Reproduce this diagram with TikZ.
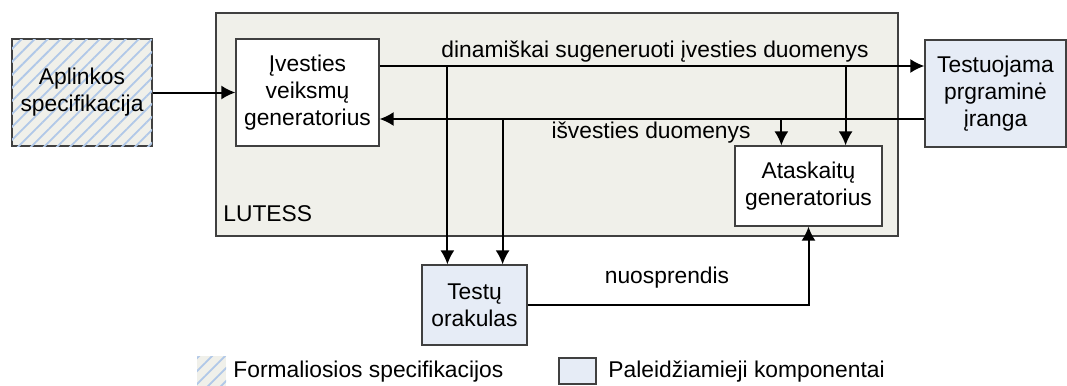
\documentclass[tikz,border=0pt]{standalone}
\usepackage{fontspec}
\setmainfont{Liberation Sans}
\usetikzlibrary{arrows.meta,patterns.meta}
\definecolor{frame}{RGB}{64,64,64}
\definecolor{lutessbg}{RGB}{240,240,234}
\definecolor{runblue}{RGB}{230,236,246}
\definecolor{hatchblue}{RGB}{176,200,232}
\tikzset{
  box/.style={draw=frame, line width=0.6pt, align=center, inner sep=0pt},
  specbox/.style={box, fill=lutessbg, postaction={pattern color=hatchblue, pattern={Lines[angle=45,distance=4.6pt,line width=0.9pt]}}},
  runbox/.style={box, fill=runblue},
  lbl/.style={inner sep=0pt},
  flow/.style={->, >={Latex[length=7pt,width=7pt]}, line width=1pt},
}
\begin{document}
\begin{tikzpicture}[x=0.5pt, y=-0.5pt, font=\fontsize{11.4pt}{13.4pt}\selectfont]
\useasboundingbox (0,0) rectangle (1067,386);
\node[box, fill=lutessbg, minimum width=341pt, minimum height=111.5pt] (lutess) at (557,124.5) {};
\node[lbl, anchor=west] (lutesslbl) at (223,214) {LUTESS};
\node[specbox, minimum width=70pt, minimum height=53.5pt] (spec) at (82,92.5) {Aplinkos\\specifikacija};
\node[box, fill=white, minimum width=71.5pt, minimum height=53.5pt] (ivest) at (307.5,92.5) {Įvesties\\veiksmų\\generatorius};
\node[runbox, minimum width=70.5pt, minimum height=53.5pt] (sut) at (995.5,93.5) {Testuojama\\prgraminė\\įranga};
\node[box, fill=white, minimum width=73.5pt, minimum height=40pt] (atask) at (808.5,186) {Ataskaitų\\generatorius};
\node[runbox, minimum width=52.5pt, minimum height=40pt] (orakulas) at (474.5,305) {Testų\\orakulas};

\coordinate (din) at ([yshift=13.25pt]ivest.east);
\coordinate (isv) at ([yshift=-13.25pt]ivest.east);
\coordinate (o1) at ([xshift=13pt]orakulas.north west);
\coordinate (o2) at ([xshift=-12.5pt]orakulas.north east);
\coordinate (a1) at ([xshift=23.5pt]atask.north west);
\coordinate (a2) at ([xshift=-18.5pt]atask.north east);

\draw[flow] (spec) -- (ivest);
\draw[flow] (din) -- (din -| sut.west);
\draw[flow] (isv -| sut.west) -- (isv);
\draw[flow] (din -| o1) -- (o1);
\draw[flow] (isv -| o2) -- (o2);
\draw[flow] (isv -| a1) -- (a1);
\draw[flow] (din -| a2) -- (a2);
\draw[flow] (orakulas) -| (atask);

\node[lbl] (dinlbl) at (655,52) {dinamiškai sugeneruoti įvesties duomenys};
\node[lbl] (isvlbl) at (651,133) {išvesties duomenys};
\node[lbl] (nuolbl) at (667,278) {nuosprendis};

\node[specbox, draw=none, minimum width=14.5pt, minimum height=15pt] (legspec) at (211.5,371) {};
\node[lbl, anchor=west] (legspeclbl) at (233,372) {Formaliosios specifikacijos};
\node[runbox, minimum width=18.5pt, minimum height=13pt] (legrun) at (577.5,371) {};
\node[lbl, anchor=west] (legrunlbl) at (608,372) {Paleidžiamieji komponentai};
\end{tikzpicture}
\end{document}
